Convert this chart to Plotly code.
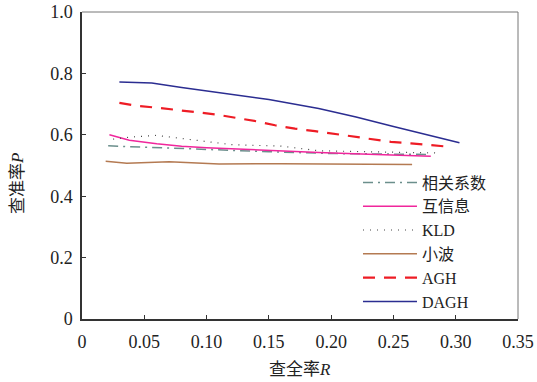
import plotly.graph_objects as go

# data
corr_x = [0.021, 0.04, 0.06, 0.08, 0.10, 0.12, 0.15, 0.20, 0.25, 0.278]
corr_y = [0.564, 0.561, 0.557, 0.554, 0.551, 0.549, 0.545, 0.539, 0.537, 0.536]

mi_x = [0.022, 0.038, 0.06, 0.08, 0.10, 0.12, 0.16, 0.19, 0.23, 0.28]
mi_y = [0.600, 0.582, 0.571, 0.563, 0.558, 0.554, 0.548, 0.542, 0.537, 0.530]

kld_x = [0.025, 0.04, 0.06, 0.08, 0.10, 0.12, 0.16, 0.19, 0.24, 0.284]
kld_y = [0.586, 0.593, 0.598, 0.588, 0.578, 0.568, 0.563, 0.548, 0.544, 0.541]

wav_x = [0.019, 0.036, 0.07, 0.11, 0.16, 0.21, 0.265]
wav_y = [0.514, 0.507, 0.512, 0.505, 0.506, 0.505, 0.503]

agh_x = [0.030, 0.045, 0.061, 0.077, 0.093, 0.108, 0.124, 0.140, 0.155, 0.171, 0.187, 0.201, 0.217, 0.233, 0.248, 0.264, 0.279, 0.295]
agh_y = [0.704, 0.694, 0.688, 0.680, 0.673, 0.666, 0.655, 0.644, 0.631, 0.620, 0.612, 0.604, 0.594, 0.584, 0.577, 0.572, 0.566, 0.561]

dagh_x = [0.030, 0.056, 0.08, 0.10, 0.15, 0.19, 0.22, 0.25, 0.275, 0.303]
dagh_y = [0.772, 0.769, 0.754, 0.743, 0.715, 0.686, 0.658, 0.627, 0.601, 0.574]

x_ticks = [0, 0.05, 0.10, 0.15, 0.20, 0.25, 0.30, 0.35]
x_labels = ["0", "0.05", "0.10", "0.15", "0.20", "0.25", "0.30", "0.35"]
y_ticks = [0, 0.2, 0.4, 0.6, 0.8, 1.0]
y_labels = ["0", "0.2", "0.4", "0.6", "0.8", "1.0"]

x_title = "查全率<i>R</i>"
y_title = "查准率<i>P</i>"

SERIF = "Liberation Serif, Times New Roman, serif"
FONT = "Liberation Serif, Times New Roman, Noto Sans CJK SC, serif"

fig = go.Figure()
fig.add_trace(go.Scatter(x=corr_x, y=corr_y, mode="lines", name="相关系数",
                         line=dict(color="#6b8f8c", width=1.5, dash="10px,5px,2px,5px")))
fig.add_trace(go.Scatter(x=mi_x, y=mi_y, mode="lines", name="互信息",
                         line=dict(color="#f0269c", width=1.5)))
fig.add_trace(go.Scatter(x=kld_x, y=kld_y, mode="lines", name="KLD",
                         line=dict(color="#444444", width=1.2, dash="1px,6px")))
fig.add_trace(go.Scatter(x=wav_x, y=wav_y, mode="lines", name="小波",
                         line=dict(color="#b47a52", width=1.5)))
fig.add_trace(go.Scatter(x=agh_x, y=agh_y, mode="lines", name="AGH",
                         line=dict(color="#ee1c25", width=2.2, dash="12px,9px")))
fig.add_trace(go.Scatter(x=dagh_x, y=dagh_y, mode="lines", name="DAGH",
                         line=dict(color="#2b2d91", width=1.5)))

fig.update_layout(
    width=537, height=382,
    margin=dict(l=82, r=19, t=12, b=63),
    plot_bgcolor="white", paper_bgcolor="white",
    font=dict(family=FONT, size=16, color="#222222"),
    showlegend=True,
    legend=dict(x=0.633, y=0.5, xanchor="left", yanchor="top",
                bgcolor="rgba(0,0,0,0)", borderwidth=0,
                font=dict(family=FONT, size=16, color="#222222"),
                tracegroupgap=0, itemwidth=54),
    xaxis=dict(range=[0, 0.35], tickvals=x_ticks, ticktext=x_labels,
               tickfont=dict(family=SERIF, size=18, color="#222222"),
               ticklabelstandoff=6,
               showgrid=False, zeroline=False, showline=True,
               linecolor="#333333", linewidth=1.5, automargin=False,
               ticks="inside", ticklen=4, tickcolor="#333333"),
    yaxis=dict(range=[0, 1.0], tickvals=y_ticks, ticktext=y_labels,
               tickfont=dict(family=SERIF, size=18, color="#222222"),
               ticklabelstandoff=4,
               showgrid=False, zeroline=False, showline=True,
               linecolor="#333333", linewidth=1.5, automargin=False,
               ticks="inside", ticklen=4, tickcolor="#333333"),
)

fig.add_annotation(text=x_title, xref="paper", yref="paper", x=0.5, y=-0.166,
                   xanchor="center", yanchor="middle", showarrow=False,
                   font=dict(family=FONT, size=17, color="#222222"))
fig.add_annotation(text=y_title, xref="paper", yref="paper", x=-0.147, y=0.443,
                   xanchor="center", yanchor="middle", showarrow=False, textangle=-90,
                   font=dict(family=FONT, size=17, color="#222222"))

# lighter top and right frame
fig.add_shape(type="line", xref="paper", yref="paper", x0=0, x1=1, y0=1, y1=1,
              line=dict(color="#777777", width=1))
fig.add_shape(type="line", xref="paper", yref="paper", x0=1, x1=1, y0=0, y1=1,
              line=dict(color="#777777", width=1))

fig.write_html("out.html")
